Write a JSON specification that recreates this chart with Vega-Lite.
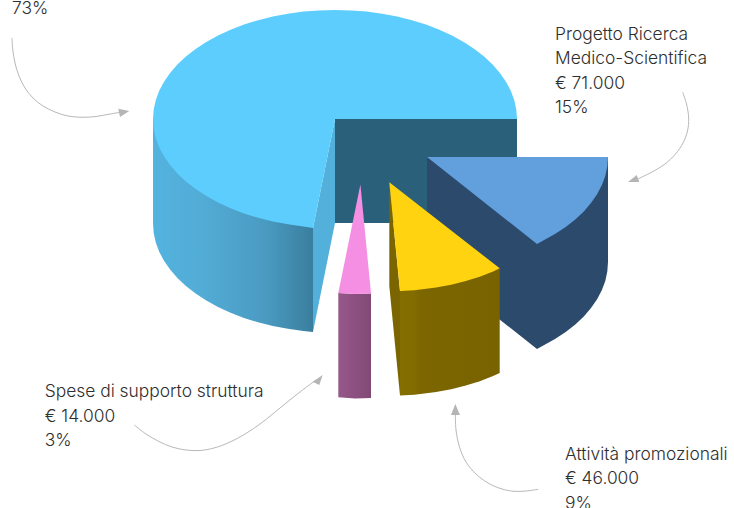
{"$schema":"https://vega.github.io/schema/vega-lite/v6.json","width":734,"height":508,"autosize":{"type":"none"},"padding":0,"background":"white","config":{"view":{"stroke":null}},
"datasets":{
"back":[{"i":0,"x":335,"y":119},{"i":1,"x":517,"y":119},{"i":2,"x":517,"y":223},{"i":3,"x":335,"y":223}],
"bigSide":[{"i":0,"x":153,"y":119},{"i":1,"x":313,"y":228},{"i":2,"x":313,"y":332},{"i":3,"x":303.4,"y":330.9},{"i":4,"x":287.9,"y":328.8},{"i":5,"x":272.8,"y":325.9},{"i":6,"x":258.1,"y":322.3},{"i":7,"x":244,"y":317.9},{"i":8,"x":230.6,"y":312.8},{"i":9,"x":218,"y":307},{"i":10,"x":206.3,"y":300.6},{"i":11,"x":195.6,"y":293.6},{"i":12,"x":185.9,"y":286},{"i":13,"x":177.4,"y":278},{"i":14,"x":170.1,"y":269.6},{"i":15,"x":164,"y":260.8},{"i":16,"x":159.2,"y":251.7},{"i":17,"x":155.8,"y":242.5},{"i":18,"x":153.7,"y":233},{"i":19,"x":153,"y":223.5}],
"bigInner":[{"i":0,"x":335,"y":119},{"i":1,"x":313,"y":228},{"i":2,"x":313,"y":332},{"i":3,"x":335,"y":223}],
"bigTop":[{"i":0,"x":335,"y":119},{"i":1,"x":517,"y":119},{"i":2,"x":516.3,"y":109.5},{"i":3,"x":514.2,"y":100},{"i":4,"x":510.8,"y":90.8},{"i":5,"x":506,"y":81.7},{"i":6,"x":499.9,"y":72.9},{"i":7,"x":492.6,"y":64.5},{"i":8,"x":484.1,"y":56.5},{"i":9,"x":474.4,"y":48.9},{"i":10,"x":463.7,"y":41.9},{"i":11,"x":452,"y":35.5},{"i":12,"x":439.4,"y":29.7},{"i":13,"x":426,"y":24.6},{"i":14,"x":411.9,"y":20.2},{"i":15,"x":397.2,"y":16.6},{"i":16,"x":382.1,"y":13.7},{"i":17,"x":366.6,"y":11.6},{"i":18,"x":350.9,"y":10.4},{"i":19,"x":335,"y":10},{"i":20,"x":319.1,"y":10.4},{"i":21,"x":303.4,"y":11.6},{"i":22,"x":287.9,"y":13.7},{"i":23,"x":272.8,"y":16.6},{"i":24,"x":258.1,"y":20.2},{"i":25,"x":244,"y":24.6},{"i":26,"x":230.6,"y":29.7},{"i":27,"x":218,"y":35.5},{"i":28,"x":206.3,"y":41.9},{"i":29,"x":195.6,"y":48.9},{"i":30,"x":185.9,"y":56.5},{"i":31,"x":177.4,"y":64.5},{"i":32,"x":170.1,"y":72.9},{"i":33,"x":164,"y":81.7},{"i":34,"x":159.2,"y":90.8},{"i":35,"x":155.8,"y":100},{"i":36,"x":153.7,"y":109.5},{"i":37,"x":153,"y":119},{"i":38,"x":153.7,"y":128.5},{"i":39,"x":155.8,"y":138},{"i":40,"x":159.2,"y":147.2},{"i":41,"x":164,"y":156.3},{"i":42,"x":170.1,"y":165.1},{"i":43,"x":177.4,"y":173.5},{"i":44,"x":185.9,"y":181.5},{"i":45,"x":195.6,"y":189.1},{"i":46,"x":206.3,"y":196.1},{"i":47,"x":218,"y":202.5},{"i":48,"x":230.6,"y":208.3},{"i":49,"x":244,"y":213.4},{"i":50,"x":258.1,"y":217.8},{"i":51,"x":272.8,"y":221.4},{"i":52,"x":287.9,"y":224.3},{"i":53,"x":303.4,"y":226.4},{"i":54,"x":313,"y":228}],
"blueSide":[{"i":0,"x":427,"y":157},{"i":1,"x":608,"y":157},{"i":2,"x":608,"y":262},{"i":3,"x":607.3,"y":271.5},{"i":4,"x":605.3,"y":280.9},{"i":5,"x":601.8,"y":290.2},{"i":6,"x":597.1,"y":299.3},{"i":7,"x":591,"y":308.1},{"i":8,"x":583.8,"y":316.5},{"i":9,"x":575.3,"y":324.5},{"i":10,"x":565.7,"y":332.1},{"i":11,"x":555,"y":339.1},{"i":12,"x":543.3,"y":345.5},{"i":13,"x":537,"y":349},{"i":14,"x":427,"y":262}],
"blueTop":[{"i":0,"x":427,"y":157},{"i":1,"x":608,"y":157},{"i":2,"x":607.3,"y":166.5},{"i":3,"x":605.3,"y":175.9},{"i":4,"x":601.8,"y":185.2},{"i":5,"x":597.1,"y":194.3},{"i":6,"x":591,"y":203.1},{"i":7,"x":583.8,"y":211.5},{"i":8,"x":575.3,"y":219.5},{"i":9,"x":565.7,"y":227.1},{"i":10,"x":555,"y":234.1},{"i":11,"x":543.3,"y":240.5},{"i":12,"x":537,"y":244}],
"yellowInner":[{"i":0,"x":389.3,"y":182.3},{"i":1,"x":400,"y":291},{"i":2,"x":400,"y":395.5},{"i":3,"x":389.3,"y":286}],
"yellowSide":[{"i":0,"x":400,"y":291},{"i":1,"x":499.7,"y":268.3},{"i":2,"x":499.7,"y":373},{"i":3,"x":493.1,"y":376.1},{"i":4,"x":479.8,"y":381.2},{"i":5,"x":465.8,"y":385.6},{"i":6,"x":451.2,"y":389.2},{"i":7,"x":436.1,"y":392.1},{"i":8,"x":414.5,"y":394.7},{"i":9,"x":400,"y":395.5}],
"yellowTop":[{"i":0,"x":389.3,"y":182.3},{"i":1,"x":400,"y":291},{"i":2,"x":414.5,"y":290.2},{"i":3,"x":436.1,"y":287.6},{"i":4,"x":451.2,"y":284.7},{"i":5,"x":465.8,"y":281.1},{"i":6,"x":479.8,"y":276.7},{"i":7,"x":493.1,"y":271.6},{"i":8,"x":499.7,"y":268.3}],
"pinkSide":[{"i":0,"x":338.3,"y":293},{"i":1,"x":355,"y":294},{"i":2,"x":371,"y":293.5},{"i":3,"x":371,"y":398},{"i":4,"x":355,"y":398.5},{"i":5,"x":338.3,"y":397.3}],
"pinkTop":[{"i":0,"x":360.4,"y":184.5},{"i":1,"x":371,"y":293.5},{"i":2,"x":355,"y":294},{"i":3,"x":338.3,"y":293}],
"arrows":[
{"a":"a","i":0,"x":12,"y":38},{"a":"a","i":1,"x":12.8,"y":50},{"a":"a","i":2,"x":15,"y":63},{"a":"a","i":3,"x":19,"y":76},{"a":"a","i":4,"x":25,"y":88},{"a":"a","i":5,"x":33,"y":98},{"a":"a","i":6,"x":43,"y":106},{"a":"a","i":7,"x":55,"y":112},{"a":"a","i":8,"x":68,"y":116},{"a":"a","i":9,"x":82,"y":117.3},{"a":"a","i":10,"x":96,"y":116.5},{"a":"a","i":11,"x":110,"y":114},{"a":"a","i":12,"x":122,"y":112},
{"a":"b","i":0,"x":682.7,"y":92.3},{"a":"b","i":1,"x":686.5,"y":104},{"a":"b","i":2,"x":688.7,"y":118},{"a":"b","i":3,"x":687.5,"y":131},{"a":"b","i":4,"x":683,"y":143},{"a":"b","i":5,"x":675.5,"y":154},{"a":"b","i":6,"x":665,"y":164},{"a":"b","i":7,"x":652,"y":172},{"a":"b","i":8,"x":636.7,"y":179.5},
{"a":"c","i":0,"x":134.3,"y":425},{"a":"c","i":1,"x":146,"y":434},{"a":"c","i":2,"x":159,"y":441.5},{"a":"c","i":3,"x":172,"y":447},{"a":"c","i":4,"x":186,"y":450},{"a":"c","i":5,"x":200,"y":450.5},{"a":"c","i":6,"x":214,"y":448},{"a":"c","i":7,"x":229,"y":442.5},{"a":"c","i":8,"x":245,"y":434},{"a":"c","i":9,"x":262,"y":422.5},{"a":"c","i":10,"x":280,"y":408},{"a":"c","i":11,"x":298,"y":393.5},{"a":"c","i":12,"x":316,"y":380},
{"a":"d","i":0,"x":538.3,"y":489.3},{"a":"d","i":1,"x":526,"y":491},{"a":"d","i":2,"x":514,"y":491.3},{"a":"d","i":3,"x":501,"y":488.7},{"a":"d","i":4,"x":488,"y":483},{"a":"d","i":5,"x":476,"y":474},{"a":"d","i":6,"x":466,"y":462},{"a":"d","i":7,"x":459.5,"y":447},{"a":"d","i":8,"x":456,"y":430},{"a":"d","i":9,"x":455.3,"y":412}],
"heads":[
{"a":"a","i":0,"x":129.3,"y":111},{"a":"a","i":1,"x":118.3,"y":108.7},{"a":"a","i":2,"x":120,"y":117},
{"a":"b","i":0,"x":628,"y":182},{"a":"b","i":1,"x":636.7,"y":175},{"a":"b","i":2,"x":639.3,"y":182},
{"a":"c","i":0,"x":322.7,"y":375},{"a":"c","i":1,"x":312.7,"y":381.7},{"a":"c","i":2,"x":319.3,"y":385},
{"a":"d","i":0,"x":455.3,"y":404},{"a":"d","i":1,"x":451,"y":415},{"a":"d","i":2,"x":460,"y":415}],
"labels":[
{"t":"73%","x":12,"y":14},
{"t":"Progetto Ricerca","x":555,"y":40},{"t":"Medico-Scientifica","x":555,"y":64},{"t":"€ 71.000","x":555,"y":89},{"t":"15%","x":555,"y":113},
{"t":"Spese di supporto struttura","x":44.7,"y":397},{"t":"€ 14.000","x":44.7,"y":422},{"t":"3%","x":44.7,"y":446},
{"t":"Attività promozionali","x":565,"y":460},{"t":"€ 46.000","x":565,"y":484},{"t":"9%","x":565,"y":509}]
},
"encoding":{"x":{"field":"x","type":"quantitative","axis":null,"scale":{"domain":[0,734],"nice":false,"zero":false}},"y":{"field":"y","type":"quantitative","axis":null,"scale":{"domain":[508,0],"nice":false,"zero":false}},"order":{"field":"i","type":"quantitative"}},
"layer":[
{"data":{"name":"back"},"mark":{"type":"line","fill":"#2A607A","stroke":null}},
{"data":{"name":"bigSide"},"mark":{"type":"line","stroke":null,"fill":{"gradient":"linear","x1":0,"y1":0,"x2":1,"y2":0,"stops":[{"offset":0,"color":"#53B3DF"},{"offset":0.3,"color":"#52ACD6"},{"offset":0.7,"color":"#4A9BC2"},{"offset":1,"color":"#3A7E9E"}]}}},
{"data":{"name":"bigInner"},"mark":{"type":"line","fill":"#52B0DA","stroke":null}},
{"data":{"name":"bigTop"},"mark":{"type":"line","fill":"#5DCDFE","stroke":null}},
{"data":{"name":"blueSide"},"mark":{"type":"line","fill":"#2C4A6B","stroke":null}},
{"data":{"name":"blueTop"},"mark":{"type":"line","fill":"#629FDD","stroke":null}},
{"data":{"name":"yellowInner"},"mark":{"type":"line","fill":"#7A6500","stroke":null}},
{"data":{"name":"yellowSide"},"mark":{"type":"line","stroke":null,"fill":{"gradient":"linear","x1":0,"y1":0,"x2":1,"y2":0,"stops":[{"offset":0,"color":"#846E00"},{"offset":0.15,"color":"#826C00"},{"offset":0.2,"color":"#7C6600"},{"offset":1,"color":"#786300"}]}}},
{"data":{"name":"yellowTop"},"mark":{"type":"line","fill":"#FFD30F","stroke":null}},
{"data":{"name":"pinkSide"},"mark":{"type":"line","stroke":null,"fill":{"gradient":"linear","x1":0,"y1":0,"x2":1,"y2":0,"stops":[{"offset":0,"color":"#96588A"},{"offset":1,"color":"#824976"}]}}},
{"data":{"name":"pinkTop"},"mark":{"type":"line","fill":"#F58FE3","stroke":null}},
{"data":{"name":"arrows"},"mark":{"type":"line","stroke":"#B8B8B8","strokeWidth":1,"interpolate":"cardinal"},"encoding":{"detail":{"field":"a"}}},
{"data":{"name":"heads"},"mark":{"type":"line","fill":"#B5B5B5","stroke":null},"encoding":{"detail":{"field":"a"}}},
{"data":{"name":"labels"},"mark":{"type":"text","align":"left","baseline":"alphabetic","font":"Inter","fontSize":17.4,"fontWeight":300,"fill":"#2E2E2E"},"encoding":{"text":{"field":"t"},"order":null}}
]}
